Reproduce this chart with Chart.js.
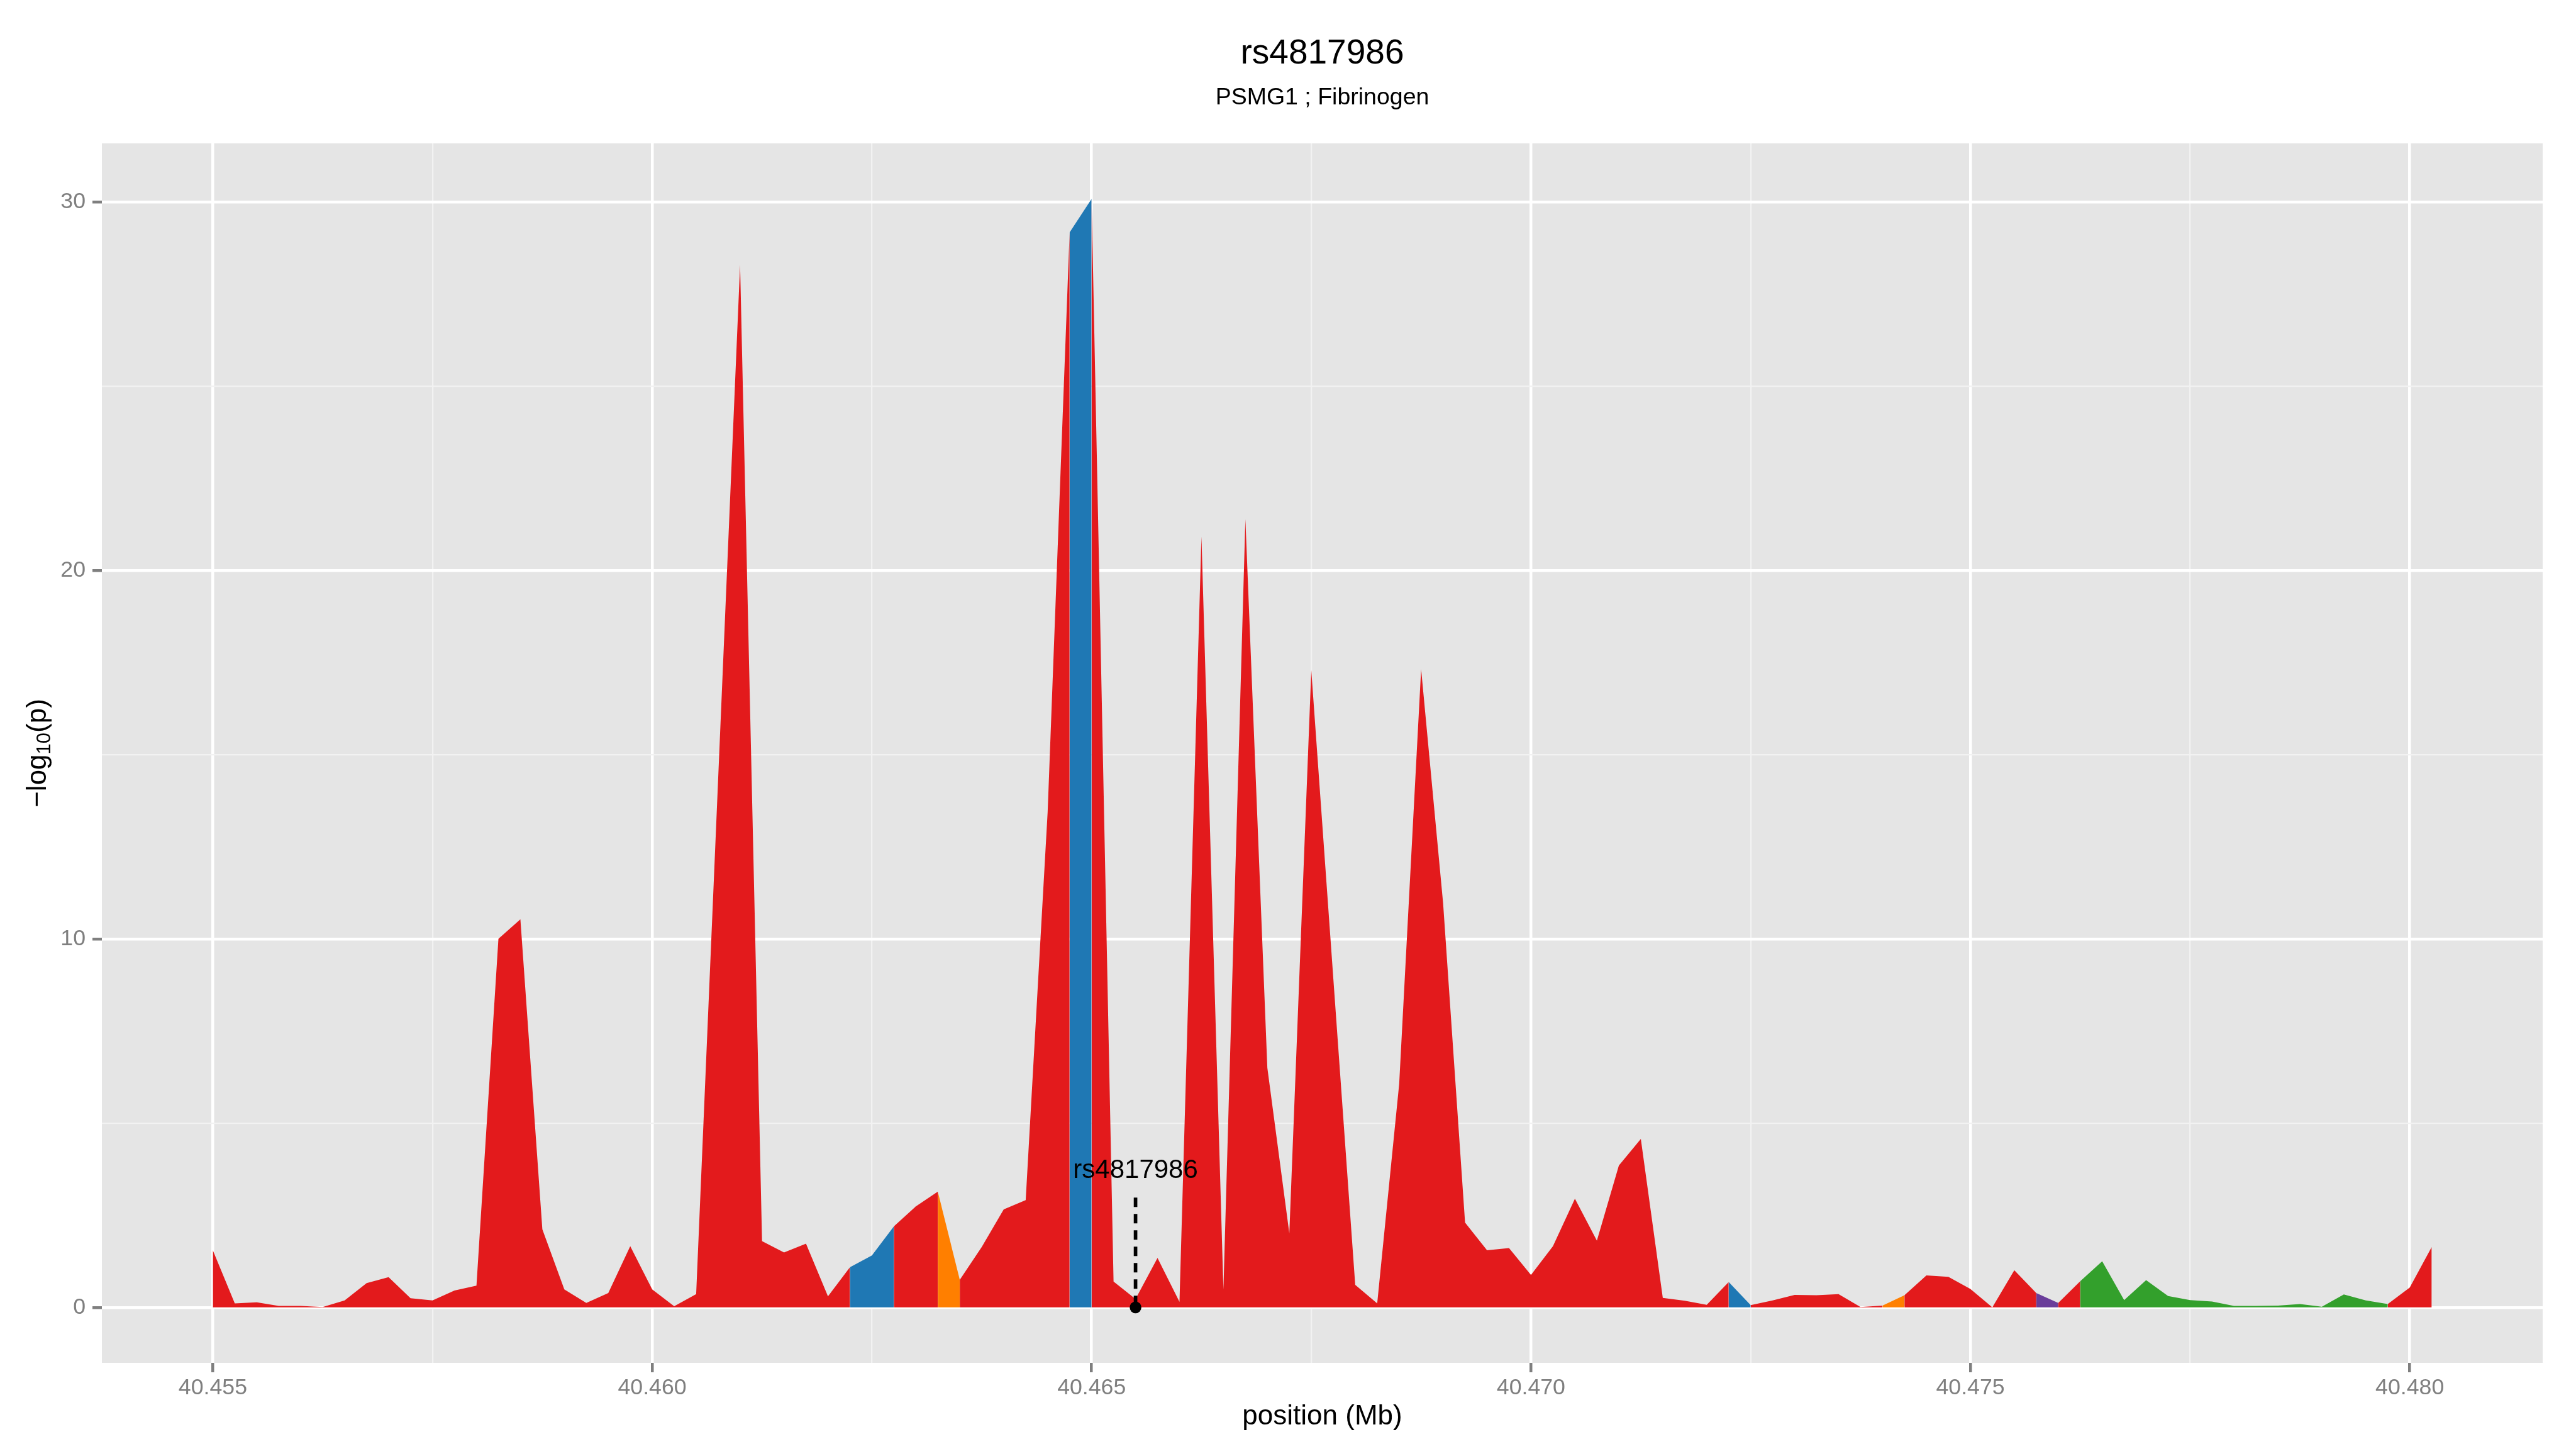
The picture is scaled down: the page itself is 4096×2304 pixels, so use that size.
<!DOCTYPE html>
<html>
<head>
<meta charset="utf-8">
<title>rs4817986</title>
<script src="https://cdn.jsdelivr.net/npm/chart.js@4.4.1/dist/chart.umd.min.js"></script>
<style>
  html, body { margin: 0; padding: 0; background: #fff; }
  canvas { display: block; }
</style>
</head>
<body>
<canvas id="regionPlot" width="4096" height="2304"></canvas>
<script>
// SNP positions along the region (Mb)
const positions = [
  40.45500, 40.45525, 40.45550, 40.45575, 40.45600, 40.45625, 40.45650, 40.45675, 40.45700, 40.45725,
  40.45750, 40.45775, 40.45800, 40.45825, 40.45850, 40.45875, 40.45900, 40.45925, 40.45950, 40.45975,
  40.46000, 40.46025, 40.46050, 40.46100, 40.46125, 40.46150, 40.46175, 40.46200, 40.46225, 40.46250,
  40.46275, 40.46300, 40.46325, 40.46350, 40.46375, 40.46400, 40.46425, 40.46450, 40.46475, 40.46500,
  40.46525, 40.46550, 40.46575, 40.46600, 40.46625, 40.46650, 40.46675, 40.46700, 40.46725, 40.46750,
  40.46800, 40.46825, 40.46850, 40.46875, 40.46900, 40.46925, 40.46950, 40.46975, 40.47000, 40.47025,
  40.47050, 40.47075, 40.47100, 40.47125, 40.47150, 40.47175, 40.47200, 40.47225, 40.47250, 40.47275,
  40.47300, 40.47325, 40.47350, 40.47375, 40.47400, 40.47425, 40.47450, 40.47475, 40.47500, 40.47525,
  40.47550, 40.47575, 40.47600, 40.47625, 40.47650, 40.47675, 40.47700, 40.47725, 40.47750, 40.47775,
  40.47800, 40.47825, 40.47850, 40.47875, 40.47900, 40.47925, 40.47950, 40.47975, 40.48000, 40.48025
];

// -log10(p) at each position
const logP = [
  1.55, 0.11, 0.14, 0.04, 0.04, 0.01, 0.19, 0.66, 0.82, 0.25,
  0.19, 0.46, 0.59, 10.00, 10.53, 2.12, 0.49, 0.12, 0.39, 1.66,
  0.49, 0.03, 0.36, 28.29, 1.80, 1.49, 1.73, 0.30, 1.09, 1.41,
  2.20, 2.74, 3.14, 0.75, 1.64, 2.66, 2.91, 13.45, 29.17, 30.08,
  0.70, 0.23, 1.34, 0.15, 20.92, 0.49, 21.39, 6.50, 2.01, 17.29,
  0.61, 0.11, 6.06, 17.32, 10.97, 2.30, 1.55, 1.61, 0.88, 1.66,
  2.95, 1.81, 3.85, 4.57, 0.26, 0.18, 0.07, 0.69, 0.06, 0.19,
  0.34, 0.33, 0.36, 0.01, 0.05, 0.33, 0.87, 0.83, 0.50, 0.00,
  1.01, 0.39, 0.12, 0.71, 1.25, 0.20, 0.74, 0.31, 0.20, 0.16,
  0.04, 0.04, 0.05, 0.09, 0.02, 0.35, 0.19, 0.09, 0.54, 1.64
];

// colour group of the stretch that starts at each position
const groups = [
  'r','r','r','r','r','r','r','r','r','r',
  'r','r','r','r','r','r','r','r','r','r',
  'r','r','r','r','r','r','r','r','b','b',
  'r','r','o','r','r','r','r','r','b','r',
  'r','r','r','r','r','r','r','r','r','r',
  'r','r','r','r','r','r','r','r','r','r',
  'r','r','r','r','r','r','r','b','r','r',
  'r','r','r','r','o','r','r','r','r','r',
  'r','p','r','g','g','g','g','g','g','g',
  'g','g','g','g','g','g','g','r','r','r'
];

const groupColors = { r: '#E31A1C', b: '#1F78B4', o: '#FF7F00', p: '#6A3D9A', g: '#33A02C' };

// marked SNP
const snpName = 'rs4817986';
const snpPos = 40.4655;
const snpLineTop = 2.98;
const snpLabelY = 3.51;

// axes
const xMajor = [40.455, 40.460, 40.465, 40.470, 40.475, 40.480];
const xMinor = [40.4575, 40.4625, 40.4675, 40.4725, 40.4775];
const yMajor = [0, 10, 20, 30];
const yMinor = [5, 15, 25];

const chartTitle = 'rs4817986';
const chartSubtitle = 'PSMG1 ; Fibrinogen';
const xTitle = 'position (Mb)';

const FONT = '"Liberation Sans", Arial, Helvetica, sans-serif';

function isIn(list, v) {
    return list.some(m => Math.abs(m - v) < 1e-7);
}

// ggplot-like 5% expansion
const xRange = positions[positions.length - 1] - positions[0];
const xMin = positions[0] - 0.05 * xRange;
const xMax = positions[positions.length - 1] + 0.05 * xRange;
const yTop = Math.max(...logP);
const yMin = -0.05 * yTop;
const yMax = yTop * 1.05;

const panelBackground = {
    id: 'panelBackground',
    beforeDraw(chart) {
        const { ctx, chartArea: a } = chart;
        ctx.save();
        ctx.fillStyle = '#FFFFFF';
        ctx.fillRect(0, 0, chart.width, chart.height);
        ctx.fillStyle = '#E5E5E5';
        ctx.fillRect(a.left, a.top, a.right - a.left, a.bottom - a.top);
        ctx.restore();
    }
};

const plotText = {
    id: 'plotText',
    afterDraw(chart) {
        const { ctx, chartArea: a } = chart;
        const cx = (a.left + a.right) / 2;
        const cy = (a.top + a.bottom) / 2;
        ctx.save();
        ctx.fillStyle = '#000000';
        ctx.textAlign = 'center';
        ctx.textBaseline = 'alphabetic';

        ctx.font = '55px ' + FONT;
        ctx.fillText(chartTitle, cx, 101);
        ctx.font = '37.5px ' + FONT;
        ctx.fillText(chartSubtitle, cx, 166);

        ctx.font = '44px ' + FONT;
        ctx.fillText(xTitle, cx, 2265);

        // y title: -log10(p) with subscript
        const big = 44, small = 31;
        ctx.save();
        ctx.translate(73, cy);
        ctx.rotate(-Math.PI / 2);
        ctx.textAlign = 'left';
        ctx.font = big + 'px ' + FONT;
        const w1 = ctx.measureText('\u2212log').width;
        const w3 = ctx.measureText('(p)').width;
        ctx.font = small + 'px ' + FONT;
        const w2 = ctx.measureText('10').width;
        let x0 = -(w1 + w2 + w3) / 2;
        ctx.font = big + 'px ' + FONT;
        ctx.fillText('\u2212log', x0, 0);
        ctx.font = small + 'px ' + FONT;
        ctx.fillText('10', x0 + w1, 7);
        ctx.font = big + 'px ' + FONT;
        ctx.fillText('(p)', x0 + w1 + w2, 0);
        ctx.restore();

        // SNP label
        const xs = chart.scales.x, ys = chart.scales.y;
        ctx.font = '42px ' + FONT;
        ctx.fillText(snpName, xs.getPixelForValue(snpPos), ys.getPixelForValue(snpLabelY));
        ctx.restore();
    }
};

const gridStyle = (major, minor) => ({
    color: c => isIn(major, c.tick.value) ? '#FFFFFF' : '#F2F2F2',
    lineWidth: c => isIn(major, c.tick.value) ? 4.5 : 2.2,
    tickColor: c => isIn(major, c.tick.value) ? '#7F7F7F' : 'rgba(0,0,0,0)',
    tickWidth: 4.5,
    tickLength: 15,
    drawTicks: true
});

new Chart(document.getElementById('regionPlot'), {
    type: 'line',
    data: {
        datasets: [
            {
                label: '-log10(p)',
                data: positions.map((p, i) => ({ x: p, y: logP[i] })),
                fill: 'origin',
                backgroundColor: groupColors.r,
                borderWidth: 0,
                borderColor: 'rgba(0,0,0,0)',
                pointRadius: 0,
                tension: 0,
                order: 3,
                segment: {
                    backgroundColor: c => groupColors[groups[c.p0DataIndex]]
                }
            },
            {
                label: 'marker line',
                data: [{ x: snpPos, y: snpLineTop }, { x: snpPos, y: 0 }],
                borderColor: '#000000',
                borderWidth: 5.7,
                borderDash: [15, 11],
                pointRadius: 0,
                fill: false,
                order: 2
            },
            {
                label: snpName,
                data: [{ x: snpPos, y: 0 }],
                showLine: false,
                pointRadius: 9.3,
                pointBackgroundColor: '#000000',
                pointBorderWidth: 0,
                order: 1
            }
        ]
    },
    options: {
        responsive: false,
        animation: false,
        devicePixelRatio: 1,
        layout: { padding: { left: 0, top: 228, right: 53, bottom: 0 } },
        plugins: {
            legend: { display: false },
            tooltip: { enabled: false },
            title: { display: false }
        },
        scales: {
            x: {
                type: 'linear',
                min: xMin,
                max: xMax,
                afterFit: s => { s.height = 137; },
                afterBuildTicks: s => {
                    s.ticks = xMajor.concat(xMinor).sort((a, b) => a - b).map(v => ({ value: v }));
                },
                border: { display: false },
                grid: gridStyle(xMajor, xMinor),
                ticks: {
                    autoSkip: false,
                    maxRotation: 0,
                    padding: 3.5,
                    color: '#7F7F7F',
                    font: { family: FONT, size: 35.7 },
                    callback: v => isIn(xMajor, v) ? v.toFixed(3) : ''
                }
            },
            y: {
                type: 'linear',
                min: yMin,
                max: yMax,
                afterFit: s => { s.width = 162; },
                afterBuildTicks: s => {
                    s.ticks = yMajor.concat(yMinor).sort((a, b) => a - b).map(v => ({ value: v }));
                },
                border: { display: false },
                grid: gridStyle(yMajor, yMinor),
                ticks: {
                    autoSkip: false,
                    padding: 11,
                    color: '#7F7F7F',
                    font: { family: FONT, size: 35.7 },
                    callback: v => isIn(yMajor, v) ? String(v) : ''
                }
            }
        }
    },
    plugins: [panelBackground, plotText]
});
</script>
</body>
</html>
